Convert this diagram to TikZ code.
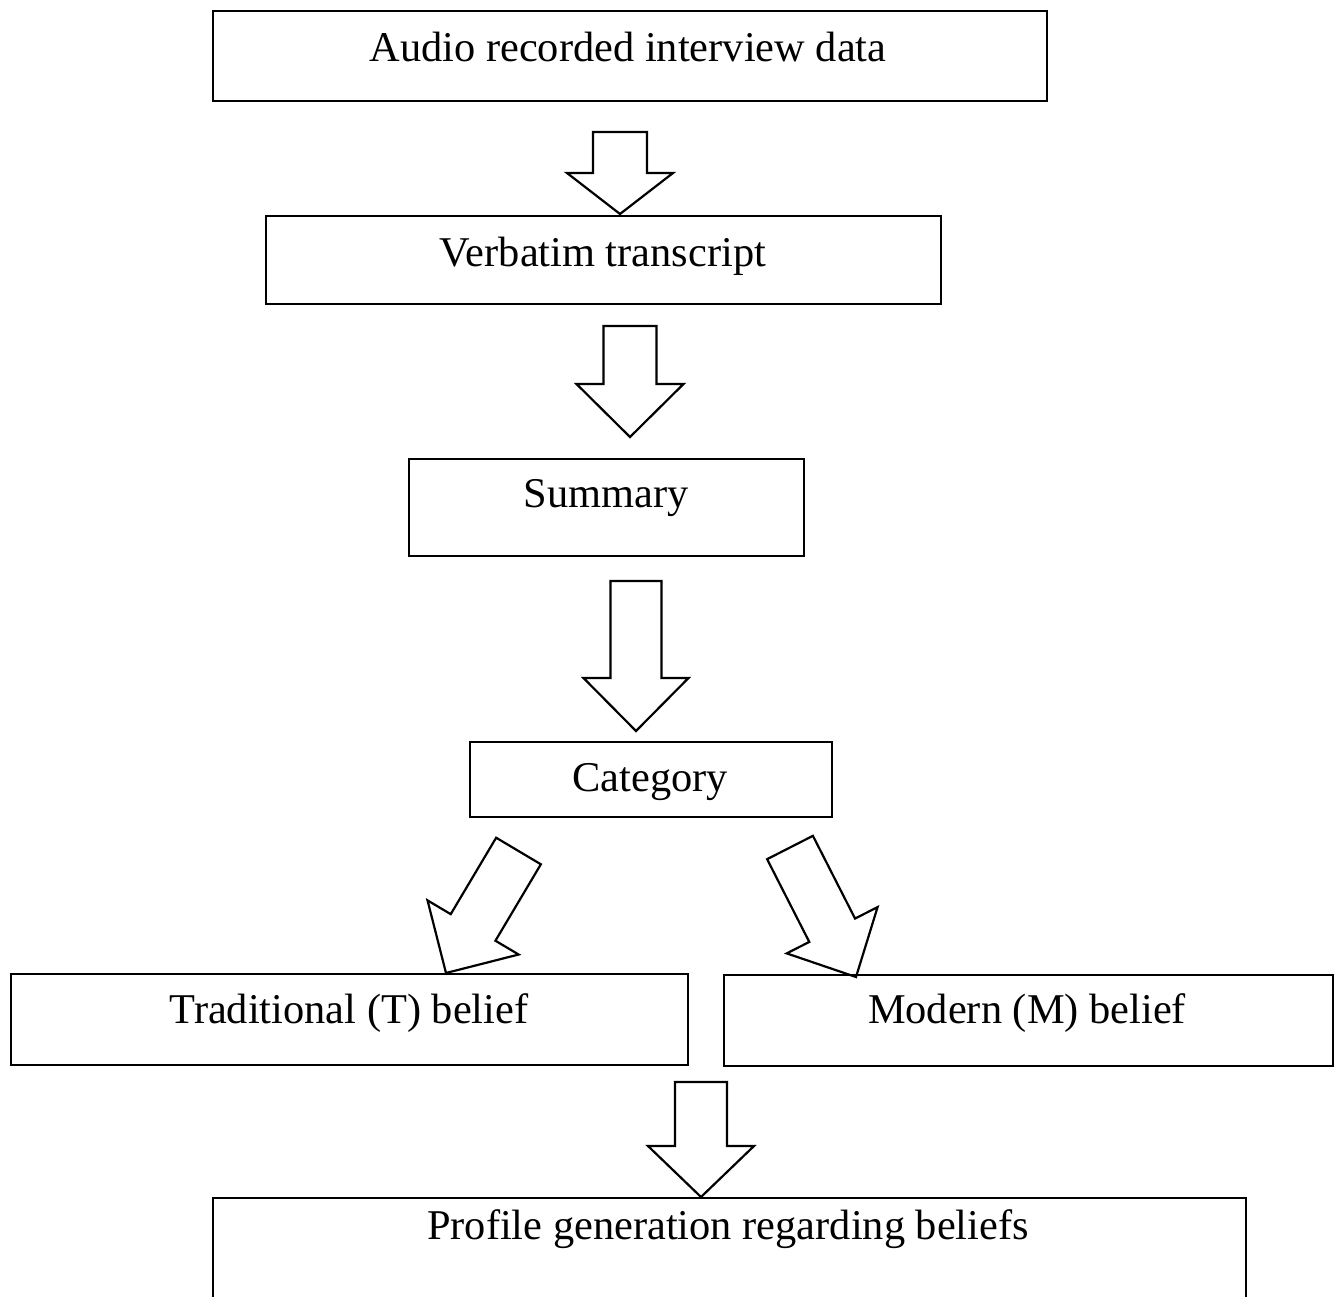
\documentclass[tikz,border=0pt]{standalone}
\usepackage{fontspec}
\setmainfont{Liberation Serif}
\usetikzlibrary{calc}
\tikzset{
  box/.style={draw, line width=2.2pt, inner sep=0pt, anchor=north west},
  lbl/.style={anchor=base, inner sep=0pt, font=\fontsize{42.4}{50}\selectfont},
  barrow/.style={draw, line width=2.2pt, line join=miter},
}
% #1 tail centre, #2 tip, #3 shaft half width, #4 head half width, #5 head length (pt)
\newcommand\blockarr[5]{%
  \draw[barrow] let \p1=(#1), \p2=(#2),
      \n1={atan2(\y2-\y1,\x2-\x1)},
      \n2={veclen(\x2-\x1,\y2-\y1)-#5} in
    ($(\p1)+(\n1+90:#3pt)$)
    -- ($(\p1)+(\n1:\n2)+(\n1+90:#3pt)$)
    -- ($(\p1)+(\n1:\n2)+(\n1+90:#4pt)$)
    -- (\p2)
    -- ($(\p1)+(\n1:\n2)+(\n1-90:#4pt)$)
    -- ($(\p1)+(\n1:\n2)+(\n1-90:#3pt)$)
    -- ($(\p1)+(\n1-90:#3pt)$) -- cycle;
}
\begin{document}
\begin{tikzpicture}[x=1pt,y=-1pt]
\useasboundingbox (0,0) rectangle (1338,1297);
% boxes
\node[box, minimum width=834pt, minimum height=90pt] (b1) at (212,10) {};
\node[box, minimum width=675pt, minimum height=88pt] (b2) at (265,215) {};
\node[box, minimum width=395pt, minimum height=97pt] (b3) at (408,458) {};
\node[box, minimum width=362pt, minimum height=75pt] (b4) at (469,741) {};
\node[box, minimum width=677pt, minimum height=91pt] (bT) at (10,973) {};
\node[box, minimum width=609pt, minimum height=91pt] (bM) at (723,974) {};
\node[box, minimum width=1033pt, minimum height=105pt] (b5) at (212,1197) {};
% texts
\node[lbl] (t1) at (628,62) {Audio recorded interview data};
\node[lbl] (t2) at (603,266) {Verbatim transcript};
\node[lbl] (t3) at (606,507) {Summary};
\node[lbl] (t4) at (650,791) {Category};
\node[lbl] (tT) at (349,1023) {Traditional (T) belief};
\node[lbl] (tM) at (1027,1023) {Modern (M) belief};
\node[lbl] (t5) at (728,1239) {Profile generation regarding beliefs};
% arrow end points
\coordinate (a1s) at (620,132);   \coordinate (a1t) at (620,214);
\coordinate (a2s) at (630,326);   \coordinate (a2t) at (630,437);
\coordinate (a3s) at (636,581);   \coordinate (a3t) at (636,731);
\coordinate (aLs) at (518.5,851); \coordinate (aLt) at (446,973);
\coordinate (aRs) at (790,847.5); \coordinate (aRt) at (856,977);
\coordinate (a4s) at (701,1082);  \coordinate (a4t) at (701,1197);
% block arrows
\blockarr{a1s}{a1t}{27}{53}{41}
\blockarr{a2s}{a2t}{26.5}{53.5}{53}
\blockarr{a3s}{a3t}{25.5}{52.5}{53}
\blockarr{aLs}{aLt}{26}{53}{53}
\blockarr{aRs}{aRt}{25.7}{51}{52.5}
\blockarr{a4s}{a4t}{26}{53}{51}
\end{tikzpicture}
\end{document}
